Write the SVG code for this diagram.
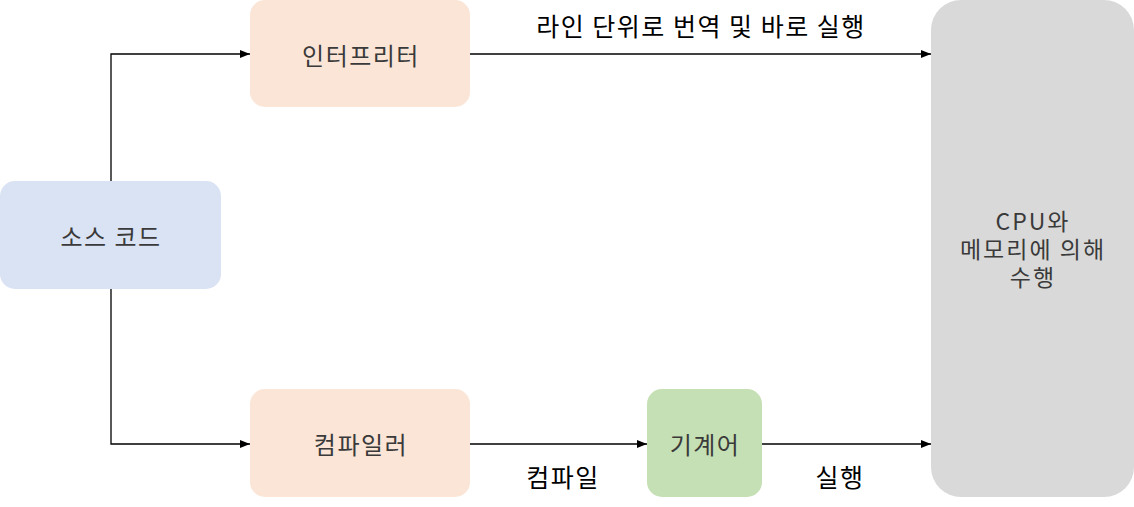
<svg xmlns="http://www.w3.org/2000/svg" width="1134" height="507" viewBox="0 0 1134 507">
<defs>
<marker id="arr" viewBox="0 0 10 10" refX="10" refY="5" markerWidth="10" markerHeight="10" markerUnits="userSpaceOnUse" orient="auto">
<path d="M0,1 L10,5 L0,9 z" fill="#000"/>
</marker>
<style>
.n{font-family:"Noto Sans CJK KR","Liberation Sans",sans-serif;font-size:24px;letter-spacing:1.5px;fill:#3a3a3a;text-anchor:middle;dominant-baseline:central}
.l{font-family:"Noto Sans CJK KR","Liberation Sans",sans-serif;font-size:25px;letter-spacing:1.5px;fill:#000;text-anchor:middle;dominant-baseline:central}
.m{font-family:"Noto Sans CJK KR","Liberation Sans",sans-serif;font-size:23px;letter-spacing:2px;fill:#3a3a3a;text-anchor:middle;dominant-baseline:central}
.c{fill:none;stroke:#000;stroke-width:1.3}
</style>
</defs>
<rect width="1134" height="507" fill="#fff"/>
<g id="connectors">
<path class="c" d="M111,181 V54 H250" marker-end="url(#arr)"/>
<path class="c" d="M111,289 V444 H250" marker-end="url(#arr)"/>
<path class="c" d="M470,54 H931" marker-end="url(#arr)"/>
<path class="c" d="M470,444 H647" marker-end="url(#arr)"/>
<path class="c" d="M762,444 H931" marker-end="url(#arr)"/>
<text class="l" x="701" y="25">라인 단위로 번역 및 바로 실행</text>
<text class="l" x="563" y="476">컴파일</text>
<text class="l" x="840" y="476">실행</text>
</g>
<g id="source">
<rect x="0" y="181" width="221" height="108" rx="15" fill="#dae3f3"/>
<text class="n" x="111" y="235">소스 코드</text>
</g>
<g id="interpreter">
<rect x="250" y="0" width="220" height="107" rx="15" fill="#fbe5d6"/>
<text class="n" x="361" y="54">인터프리터</text>
</g>
<g id="compiler">
<rect x="250" y="389" width="220" height="108" rx="15" fill="#fbe5d6"/>
<text class="n" x="361" y="443">컴파일러</text>
</g>
<g id="machine">
<rect x="647" y="389" width="115" height="108" rx="15" fill="#c5e0b4"/>
<text class="n" x="705" y="443">기계어</text>
</g>
<g id="cpu">
<rect x="931" y="0" width="203" height="497" rx="30" fill="#d9d9d9"/>
<text class="m" x="1033" y="220">CPU와</text>
<text class="m" x="1033" y="248">메모리에 의해</text>
<text class="m" x="1033" y="276">수행</text>
</g>
</svg>
